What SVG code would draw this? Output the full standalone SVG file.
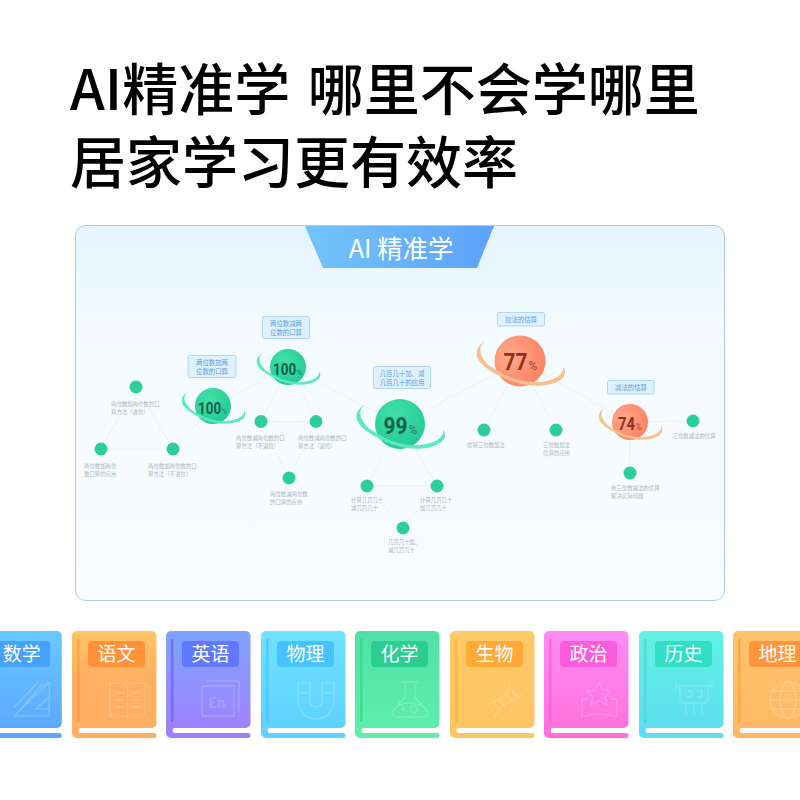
<svg xmlns="http://www.w3.org/2000/svg" width="800" height="800" viewBox="0 0 800 800">
<style>
text{font-family:"Noto Sans CJK SC","Noto Sans",sans-serif}
.title{font-size:56px;font-weight:500;fill:#000;word-spacing:5px}
.conn{stroke:#dfe7ee;stroke-width:.8;stroke-dasharray:2 1.5;fill:none}
.dot{fill:#2dcf98}
.sm{font-size:5.4px;fill:#adb4bb}
.lab rect{fill:#dff1fd;stroke:#a3cdee;stroke-width:.8}
.lab text{font-size:6.4px;fill:#5a9fe2;text-anchor:middle}
.num{font-family:Roboto,sans-serif;font-weight:700}
.pc{font-family:Roboto,sans-serif;font-weight:500}
.g{fill:#0d604b}.gp{fill:#2d8168}
.o{fill:#8f3220}.op{fill:#a9533e}
.bl{font-size:19px;font-weight:400;fill:#fff;text-anchor:middle}
.ic{fill:none;stroke:#fff;stroke-opacity:.2;stroke-width:1.3;stroke-linejoin:round;stroke-linecap:round}
.sp{filter:url(#soft)}
</style>
<defs>
<filter id="soft" x="-200%" y="-10%" width="500%" height="120%"><feGaussianBlur stdDeviation=".6"/></filter>
<linearGradient id="panel" x1="0" y1="0" x2="0" y2="1"><stop offset="0" stop-color="#e5f4fe"/><stop offset=".3" stop-color="#f4fbff"/><stop offset="1" stop-color="#f8fcff"/></linearGradient>
<linearGradient id="ban" x1="0" y1="0" x2="1" y2="0"><stop offset="0" stop-color="#72c4f9"/><stop offset="1" stop-color="#5ca2fb"/></linearGradient>
<radialGradient id="sg" cx=".4" cy=".3" r=".8"><stop offset="0" stop-color="#40dfa8"/><stop offset="1" stop-color="#22c892"/></radialGradient>
<radialGradient id="so" cx=".3" cy=".4" r=".85"><stop offset="0" stop-color="#ffa98a"/><stop offset="1" stop-color="#ff7a5e"/></radialGradient>
<path id="ring" d="M-25,-14C-33,-10-34,-2-24,5C-12,14 6,20 20,17C30,15 35,10 31,4C32,9 27,13 18,14.500C4,17-10,12-22,3.500C-29,-3-31,-10-25,-14Z"/>
<linearGradient id="b1" x1="0" y1="0" x2="0" y2="1"><stop offset="0" stop-color="#68c8ff"/><stop offset="1" stop-color="#5da6ff"/></linearGradient>
<linearGradient id="b2" x1="0" y1="0" x2="0" y2="1"><stop offset="0" stop-color="#ffc566"/><stop offset=".4" stop-color="#ffb163"/><stop offset="1" stop-color="#ffae62"/></linearGradient>
<linearGradient id="b3" x1="0" y1="0" x2="0" y2="1"><stop offset="0" stop-color="#7ea4ff"/><stop offset="1" stop-color="#a17eff"/></linearGradient>
<linearGradient id="b4" x1="0" y1="0" x2="0" y2="1"><stop offset="0" stop-color="#6ee2ff"/><stop offset="1" stop-color="#5cd0ff"/></linearGradient>
<linearGradient id="b5" x1="0" y1="0" x2="0" y2="1"><stop offset="0" stop-color="#50e0a6"/><stop offset="1" stop-color="#5ff0ac"/></linearGradient>
<linearGradient id="b6" x1="0" y1="0" x2="0" y2="1"><stop offset="0" stop-color="#ffca68"/><stop offset="1" stop-color="#ffc464"/></linearGradient>
<linearGradient id="b7" x1="0" y1="0" x2="0" y2="1"><stop offset="0" stop-color="#ff8cf2"/><stop offset="1" stop-color="#ff6fdc"/></linearGradient>
<linearGradient id="b8" x1="0" y1="0" x2="0" y2="1"><stop offset="0" stop-color="#62f2e2"/><stop offset="1" stop-color="#5edcf2"/></linearGradient>
<linearGradient id="b9" x1="0" y1="0" x2="0" y2="1"><stop offset="0" stop-color="#ffc46a"/><stop offset="1" stop-color="#ffb866"/></linearGradient>
<path id="bookshape" d="M5,0H79A5,5 0 0 1 84.500,5V92A5,5 0 0 1 79.500,97H8A3,3 0 0 0 8,102H82A2.500,2.500 0 0 1 82,107H5A5,5 0 0 1 0,102V5A5,5 0 0 1 5,0Z"/>
</defs>

<text class="title" x="70" y="110">AI精准学 哪里不会学哪里</text>
<text class="title" x="70" y="183">居家学习更有效率</text>

<g id="panel-box">
<rect x="75.500" y="225.500" width="649" height="375" rx="10" fill="url(#panel)" stroke="#a9cfe4" stroke-width="1"/>
<path d="M305,226H494L477,268H323Z" fill="url(#ban)"/>
<text x="401" y="257.500" font-size="25.400" font-weight="400" fill="#fff" text-anchor="middle">AI 精准学</text>
</g>

<g id="connectors" class="conn">
<path d="M213,406L288,367M213,406L173,449M136,387L101,449M136,387L173,449M101,449H173"/>
<path d="M288,367L261,421.500M288,367L316,421.500M261,421.500H316M261,421.500L289,478M316,421.500L289,478M288,367L400,424"/>
<path d="M400,424L367,486M400,424L437,486M367,486H437M367,486L403,528M437,486L403,528M400,424L520,361"/>
<path d="M520,361L484,430M520,361L556,430M520,361L630,422M630,422L693,421M630,422V473"/>
</g>

<g id="n-100a"><circle cx="213" cy="406" r="18" fill="url(#sg)"/><use href="#ring" transform="translate(213,406)" fill="#5ce8c0"/><text class="num g" transform="translate(198,414) scale(.79,1)" font-size="17">100</text><text class="pc gp" x="221.500" y="414" font-size="8">%</text></g>
<g id="l-100a" class="lab"><rect x="188" y="355.500" width="48" height="22" rx="1.500"/><text x="212" y="364.500">两位数加两</text><text x="212" y="373.500">位数的口算</text></g>
<g id="d1a"><circle class="dot" cx="136" cy="387" r="6.500"/><text class="sm" x="111" y="406">两位数加两位数的口</text><text class="sm" x="111" y="414">算方法（进位）</text></g>
<g id="d1b"><circle class="dot" cx="101" cy="449" r="6.500"/><text class="sm" x="84" y="468">两位数加两位</text><text class="sm" x="84" y="476">数口算的应用</text></g>
<g id="d1c"><circle class="dot" cx="173" cy="449" r="6.500"/><text class="sm" x="148" y="468">两位数加两位数的口</text><text class="sm" x="148" y="476">算方法（不进位）</text></g>

<g id="n-100b"><circle cx="288" cy="367" r="18" fill="url(#sg)"/><use href="#ring" transform="translate(288,367)" fill="#5ce8c0"/><text class="num g" transform="translate(273,375) scale(.79,1)" font-size="17">100</text><text class="pc gp" x="296.500" y="375" font-size="8">%</text></g>
<g id="l-100b" class="lab"><rect x="262.500" y="316.500" width="47" height="22" rx="1.500"/><text x="286" y="325.500">两位数减两</text><text x="286" y="334.500">位数的口算</text></g>
<g id="d2a"><circle class="dot" cx="261" cy="421.500" r="6.500"/><text class="sm" x="236" y="440">两位数减两位数的口</text><text class="sm" x="236" y="448">算方法（不退位）</text></g>
<g id="d2b"><circle class="dot" cx="316" cy="421.500" r="6.500"/><text class="sm" x="298" y="440">两位数减两位数的口</text><text class="sm" x="298" y="448">算方法（退位）</text></g>
<g id="d2c"><circle class="dot" cx="289" cy="478" r="6.500"/><text class="sm" x="270" y="496">两位数减两位数</text><text class="sm" x="270" y="504">的口算的应用</text></g>

<g id="n-99"><circle cx="400" cy="424" r="25" fill="url(#sg)"/><use href="#ring" transform="translate(400,424) scale(1.390)" fill="#5ce8c0"/><text class="num g" transform="translate(383.500,433.500) scale(.87,1)" font-size="24">99</text><text class="pc gp" x="408.500" y="433.500" font-size="12">%</text></g>
<g id="l-99" class="lab"><rect x="373.500" y="366.500" width="57" height="22" rx="1.500"/><text x="402" y="375.500">几百几十加、减</text><text x="402" y="384.500">几百几十的应用</text></g>
<g id="d3a"><circle class="dot" cx="367" cy="486" r="6.500"/><text class="sm" x="351" y="501.500">计算几百几十</text><text class="sm" x="351" y="510">减几百几十</text></g>
<g id="d3b"><circle class="dot" cx="437" cy="486" r="6.500"/><text class="sm" x="420" y="501.500">计算几百几十</text><text class="sm" x="420" y="510">加几百几十</text></g>
<g id="d3c"><circle class="dot" cx="403" cy="528" r="6.500"/><text class="sm" x="388" y="544">几百几十加、</text><text class="sm" x="388" y="552">减几百几十</text></g>

<g id="n-77"><circle cx="520" cy="361" r="25.500" fill="url(#so)"/><use href="#ring" transform="translate(520,361) scale(1.390)" fill="#f6c08a"/><text class="num o" transform="translate(503.500,370) scale(.87,1)" font-size="24">77</text><text class="pc op" x="528.500" y="370" font-size="12">%</text></g>
<g id="l-77" class="lab"><rect x="497.500" y="312.500" width="47" height="13.500" rx="1.500"/><text x="521" y="321.500">加法的估算</text></g>
<g id="d4a"><circle class="dot" cx="484" cy="430" r="6.500"/><text class="sm" x="467" y="447">估算三位数加法</text></g>
<g id="d4b"><circle class="dot" cx="556" cy="430" r="6.500"/><text class="sm" x="543" y="447">三位数加法</text><text class="sm" x="543" y="455">估算的应用</text></g>

<g id="n-74"><circle cx="630" cy="422" r="18" fill="url(#so)"/><use href="#ring" transform="translate(630,422)" fill="#f6c08a"/><text class="num o" transform="translate(618,430) scale(.82,1)" font-size="18">74</text><text class="pc op" x="635.500" y="430" font-size="8.500">%</text></g>
<g id="l-74" class="lab"><rect x="607.500" y="380.500" width="46.500" height="13.500" rx="1.500"/><text x="631" y="389.500">减法的估算</text></g>
<g id="d5a"><circle class="dot" cx="693" cy="421" r="6.500"/><text class="sm" x="672.500" y="438">三位数减法的估算</text></g>
<g id="d5b"><circle class="dot" cx="630" cy="473" r="6.500"/><text class="sm" x="611" y="490">用三位数减法的估算</text><text class="sm" x="611" y="498">解决实际问题</text></g>

<g id="book-math" transform="translate(-22.700,631)"><use href="#bookshape" fill="url(#b1)"/><rect class="sp" x="5" y="8" width="2.500" height="83" fill="#4b9cf8" opacity=".6"/><rect x="16" y="10" width="57" height="26" rx="4" fill="#44a2fa"/><text class="bl" x="44.500" y="30">数学</text><path class="ic" d="M72,51V85H37ZM72,66V78H58ZM60,52L37,76M65,53L42,80"/></g>
<g id="book-chinese" transform="translate(72,631)"><use href="#bookshape" fill="url(#b2)"/><rect class="sp" x="5" y="8" width="2.500" height="83" fill="#ff9a3c" opacity=".7"/><rect x="16" y="10" width="57" height="26" rx="4" fill="#ff9238"/><text class="bl" x="44.500" y="30">语文</text><path class="ic" d="M38,52H50Q54,52 55.500,56Q57,52 61,52H73V85H60Q56,85 55.500,87Q55,85 51,85H38ZM55.500,56V85M43,62H51M43,69H51M43,76H51M60,62H68M60,69H68M60,76H68"/></g>
<g id="book-english" transform="translate(166,631)"><use href="#bookshape" fill="url(#b3)"/><rect class="sp" x="5" y="8" width="2.500" height="83" fill="#6c5cf0" opacity=".7"/><rect x="16" y="10" width="57" height="26" rx="4" fill="#6078fb"/><text class="bl" x="44.500" y="30">英语</text><path class="ic" d="M36,55H68V85H36ZM42,50H73V80"/><text x="42" y="77" font-size="14" font-weight="700" fill="#fff" fill-opacity=".18">En</text></g>
<g id="book-physics" transform="translate(261,631)"><use href="#bookshape" fill="url(#b4)"/><rect class="sp" x="5" y="8" width="2.500" height="83" fill="#48c4f8" opacity=".7"/><rect x="16" y="10" width="57" height="26" rx="4" fill="#48c2fa"/><text class="bl" x="44.500" y="30">物理</text><path class="ic" d="M37,52H49V70A6,6 0 0 0 61,70V52H73V70A18,18 0 0 1 37,70ZM37,62H49M61,62H73"/></g>
<g id="book-chem" transform="translate(355,631)"><use href="#bookshape" fill="url(#b5)"/><rect class="sp" x="5" y="8" width="2.500" height="83" fill="#2fd98c" opacity=".7"/><rect x="16" y="10" width="57" height="26" rx="4" fill="#2ccd90"/><text class="bl" x="44.500" y="30">化学</text><path class="ic" d="M47,51H63M50,51V66L38,80Q35,86 42,86H68Q75,86 72,80L60,66V51M41,76Q55,68 69,76"/><circle class="ic" cx="59" cy="78" r="3.500"/><circle class="ic" cx="48" cy="78" r="1.500"/></g>
<g id="book-bio" transform="translate(450,631)"><use href="#bookshape" fill="url(#b6)"/><rect class="sp" x="5" y="8" width="2.500" height="83" fill="#ffae3a" opacity=".7"/><rect x="16" y="10" width="57" height="26" rx="4" fill="#ffaa38"/><text class="bl" x="44.500" y="30">生物</text><path class="ic" d="M37,74Q52,68 57,62Q60,56 60,51M45,86Q46,80 52,75Q62,72 72,64M43,71L49,80M49,68L55,76M55,62L62,70M60,57L67,66"/></g>
<g id="book-politics" transform="translate(544,631)"><use href="#bookshape" fill="url(#b7)"/><rect class="sp" x="5" y="8" width="2.500" height="83" fill="#f55cdc" opacity=".7"/><rect x="16" y="10" width="57" height="26" rx="4" fill="#fa5cdc"/><text class="bl" x="44.500" y="30">政治</text><path class="ic" d="M55,51L59,59L67,60L61,66L63,74L55,70L47,74L49,66L43,60L51,59ZM43,68H38V86Q55,80 73,86V68H67"/></g>
<g id="book-history" transform="translate(639,631)"><use href="#bookshape" fill="url(#b8)"/><rect class="sp" x="5" y="8" width="2.500" height="83" fill="#3fd8d8" opacity=".7"/><rect x="16" y="10" width="57" height="26" rx="4" fill="#30dfc4"/><text class="bl" x="44.500" y="30">历史</text><path class="ic" d="M37,55H73M41,55V68Q41,72 45,72H65Q69,72 69,68V55M37,52V58M73,52V58M47,72V84M63,72V84M55,72V84M48,60H53V66H48M58,60H63V66H58"/></g>
<g id="book-geo" transform="translate(733,631)"><use href="#bookshape" fill="url(#b9)"/><rect class="sp" x="5" y="8" width="2.500" height="83" fill="#ff9c3a" opacity=".7"/><rect x="16" y="10" width="57" height="26" rx="4" fill="#ff963e"/><text class="bl" x="44.500" y="30">地理</text><circle class="ic" cx="55" cy="69" r="18"/><ellipse class="ic" cx="55" cy="69" rx="8" ry="18"/><path class="ic" d="M37,69H73M40,60H70M40,78H70"/></g>
</svg>
